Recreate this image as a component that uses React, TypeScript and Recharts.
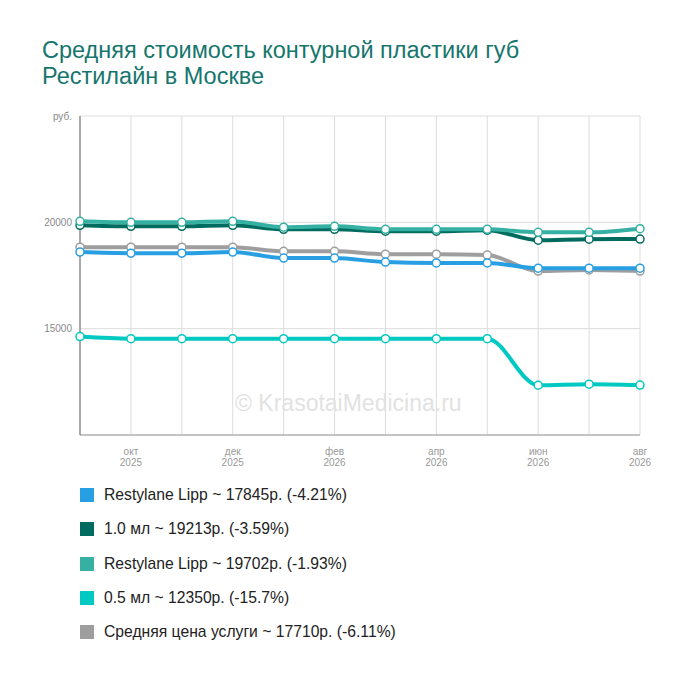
import { LineChart, Line, XAxis, YAxis, CartesianGrid } from "recharts";

const months = ["сен 2025", "окт 2025", "ноя 2025", "дек 2025", "янв 2026", "фев 2026", "мар 2026", "апр 2026", "май 2026", "июн 2026", "июл 2026", "авг 2026"];
const shownMonths = ["окт 2025", "дек 2025", "фев 2026", "апр 2026", "июн 2026", "авг 2026"];

const lippA = [18600, 18550, 18550, 18600, 18320, 18320, 18130, 18090, 18090, 17845, 17845, 17845];
const ml10 = [19860, 19810, 19810, 19860, 19670, 19670, 19580, 19580, 19630, 19160, 19210, 19213];
const lippB = [20050, 20000, 20000, 20050, 19770, 19810, 19670, 19670, 19670, 19530, 19530, 19702];
const ml05 = [14630, 14530, 14530, 14530, 14530, 14530, 14530, 14530, 14530, 12340, 12390, 12350];
const avg = [18830, 18830, 18830, 18830, 18640, 18640, 18500, 18500, 18460, 17710, 17760, 17710];

const yTicks = [10000, 15000, 20000, 25000];

const series = [
  { key: "avg", name: "Средняя цена услуги ~ 17710р. (-6.11%)", color: "#9e9e9e" },
  { key: "ml05", name: "0.5 мл ~ 12350р. (-15.7%)", color: "#00c9c1" },
  { key: "lippA", name: "Restylane Lipp ~ 17845р. (-4.21%)", color: "#279fe2" },
  { key: "ml10", name: "1.0 мл ~ 19213р. (-3.59%)", color: "#006b5f" },
  { key: "lippB", name: "Restylane Lipp ~ 19702р. (-1.93%)", color: "#35b0a3" },
];
const legendOrder = ["lippA", "ml10", "lippB", "ml05", "avg"];

const data = months.map((m, i) => ({
  month: m,
  lippA: lippA[i],
  ml10: ml10[i],
  lippB: lippB[i],
  ml05: ml05[i],
  avg: avg[i],
}));

function MonthTick({ x, y, payload }: any) {
  if (!shownMonths.includes(payload.value)) return null;
  const [m, yr] = payload.value.split(" ");
  return (
    <text x={x} y={y + 4} textAnchor="middle" fill="#999" fontSize={10} fontFamily="Arial, Liberation Sans, sans-serif">
      <tspan x={x} dy="0.8em">{m}</tspan>
      <tspan x={x} dy="1.1em">{yr}</tspan>
    </text>
  );
}

export default function App() {
  const font = "Arial, 'Liberation Sans', sans-serif";
  return (
    <div style={{ position: "relative", width: 700, height: 680, margin: -8, background: "#fff", fontFamily: font }}>
      <div style={{ position: "absolute", left: 42, top: 37, fontSize: 23.5, lineHeight: "26px", color: "#16766d" }}>
        Средняя стоимость контурной пластики губ<br />Рестилайн в Москве
      </div>
      <div style={{ position: "absolute", left: 0, top: 0 }}>
        <LineChart width={700} height={480} data={data} margin={{ top: 116, right: 60, left: 30, bottom: 15 }}>
          <CartesianGrid stroke="#dddddd" horizontal vertical />
          <XAxis
            dataKey="month"
            interval={0}
            tick={<MonthTick />}
            tickLine={false}
            axisLine={{ stroke: "#999" }}
            height={30}
            padding={{ left: 0, right: 0 }}
          />
          <YAxis
            domain={[10000, 25000]}
            ticks={yTicks}
            width={50}
            tickLine={false}
            axisLine={{ stroke: "#666" }}
            tick={{ fill: "#888", fontSize: 10, fontFamily: font }}
            tickFormatter={(v: number) => (v === 25000 ? "руб." : v === 10000 ? "" : String(v))}
          />
          {series.map((s) => (
            <Line
              key={s.key}
              type="monotone"
              dataKey={s.key}
              stroke={s.color}
              strokeWidth={4}
              dot={{ r: 4, fill: "#fff", stroke: s.color, strokeWidth: 1.5 }}
              isAnimationActive={false}
            />
          ))}
        </LineChart>
      </div>
      <div style={{ position: "absolute", left: 235, top: 390, fontSize: 23, color: "#e2e2e2" }}>
        © KrasotaiMedicina.ru
      </div>
      <div style={{ position: "absolute", left: 80, top: 478 }}>
        {legendOrder.map((k) => {
          const s = series.find((q) => q.key === k)!;
          return (
            <div key={k} style={{ display: "flex", alignItems: "center", height: 34.3, fontSize: 15.7, color: "#222" }}>
              <span style={{ width: 14, height: 14, background: s.color, marginRight: 10, display: "inline-block" }} />
              {s.name}
            </div>
          );
        })}
      </div>
    </div>
  );
}
